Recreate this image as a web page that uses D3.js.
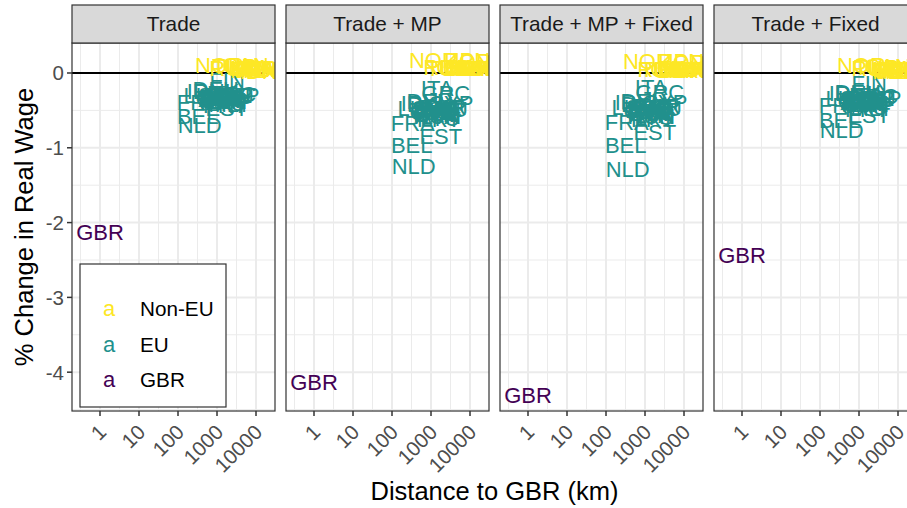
<!DOCTYPE html>
<html>
<head>
<meta charset="utf-8">
<script src="https://cdn.jsdelivr.net/npm/d3@7"></script>
<style>
  body { margin: 0; background: #ffffff; }
  svg { display: block; font-family: "Liberation Sans", Arial, Helvetica, sans-serif; }
</style>
</head>
<body>
<svg id="chart" width="907" height="508"></svg>
<script>
// Facets (one panel per scenario)
const scenarios = ["Trade", "Trade + MP", "Trade + MP + Fixed", "Trade + Fixed"];

// Countries, their group and distance from London (km)
const countries = ["AUS","AUT","BEL","BGR","BRA","CAN","CHN","CYP","CZE","DEU","DNK","ESP","EST","FIN","FRA","GBR","GRC","HRV","HUN","IDN","IND","IRL","ITA","JPN","KOR","LTU","LUX","LVA","MEX","MLT","NLD","NOR","POL","PRT","ROU","RUS","SVK","SVN","SWE","TUR","TWN","USA"];
const groups = ["Non-EU","EU","EU","EU","Non-EU","Non-EU","Non-EU","EU","EU","EU","EU","EU","EU","EU","EU","GBR","EU","EU","EU","Non-EU","Non-EU","EU","EU","Non-EU","Non-EU","EU","EU","EU","Non-EU","EU","EU","Non-EU","EU","EU","EU","Non-EU","EU","EU","EU","Non-EU","Non-EU","Non-EU"];
const distanceKm = [17000,1235,320,2020,8770,5350,8140,3220,1035,930,955,1260,1785,1820,340,1,2390,1360,1450,11700,6720,460,1435,9560,8860,1720,490,1680,8900,2100,360,1150,1450,1585,2090,2500,1300,1210,1430,2840,9780,5900];

// % change in real wage, one array per scenario (same country order)
const changeTrade =        [0.05,-0.35,-0.57,-0.30,0.04,0.10,0.05,-0.30,-0.33,-0.22,-0.24,-0.32,-0.47,-0.10,-0.39,-2.13,-0.28,-0.36,-0.38,0.03,0.06,-0.24,-0.27,0.05,0.06,-0.40,-0.30,-0.37,0.04,-0.42,-0.70,0.11,-0.34,-0.43,-0.31,0.07,-0.36,-0.34,-0.29,0.09,0.05,0.08];
const changeTradeMP =      [0.07,-0.50,-0.96,-0.45,0.06,0.08,0.07,-0.40,-0.52,-0.38,-0.42,-0.48,-0.85,-0.45,-0.67,-4.13,-0.27,-0.55,-0.58,0.06,0.07,-0.40,-0.20,0.17,0.16,-0.60,-0.47,-0.57,0.07,-0.50,-1.24,0.17,-0.53,-0.62,-0.48,0.08,-0.55,-0.50,-0.47,0.07,0.08,0.07];
const changeTradeMPFixed = [0.05,-0.49,-0.97,-0.44,0.04,0.05,0.05,-0.39,-0.51,-0.37,-0.41,-0.47,-0.79,-0.44,-0.66,-4.30,-0.26,-0.54,-0.57,0.04,0.05,-0.39,-0.19,0.16,0.15,-0.59,-0.46,-0.56,0.05,-0.49,-1.28,0.16,-0.52,-0.61,-0.47,0.05,-0.54,-0.49,-0.46,0.05,0.06,0.04];
const changeTradeFixed =   [0.04,-0.39,-0.63,-0.34,0.03,0.09,0.04,-0.34,-0.37,-0.25,-0.27,-0.36,-0.56,-0.14,-0.43,-2.43,-0.31,-0.40,-0.42,0.02,0.05,-0.27,-0.30,0.04,0.05,-0.45,-0.34,-0.41,0.03,-0.47,-0.76,0.11,-0.38,-0.48,-0.35,0.06,-0.40,-0.38,-0.33,0.08,0.04,0.07];
const scenarioValues = [changeTrade, changeTradeMP, changeTradeMPFixed, changeTradeFixed];

// Axis ticks and legend
const xTicks = [1, 10, 100, 1000, 10000];
const xTickLabels = ["1", "10", "100", "1000", "10000"];
const yTicks = [0, -1, -2, -3, -4];
const yTickLabels = ["0", "-1", "-2", "-3", "-4"];
const groupOrder = ["Non-EU", "EU", "GBR"];
const groupColors = ["#FDE725", "#21908C", "#440154"];

// ---- layout ----
const svg = d3.select("#chart");
const panelW = 203, panelGap = 11, firstLeft = 72;
const stripTop = 5, panelTop = 43, panelBottom = 411;
const ink = "#333333", gridCol = "#EBEBEB", tickText = "#4D4D4D";

const x = d3.scaleLog().domain([Math.pow(10, -0.718), Math.pow(10, 4.487)]).range([0, panelW]);
const y = d3.scaleLinear().domain([0.401, -4.519]).range([panelTop, panelBottom]);
const color = d3.scaleOrdinal().domain(groupOrder).range(groupColors);

const rows = countries.map((c, i) => ({ code: c, group: groups[i], dist: distanceKm[i] }));

const xMinor = d3.range(-1, 5).map(k => Math.pow(10, k + 0.5)).filter(v => x(v) > 0 && x(v) < panelW);
const yMinor = [-0.5, -1.5, -2.5, -3.5, -4.5];

const defs = svg.append("defs");

scenarios.forEach((name, p) => {
  const left = firstLeft + p * (panelW + panelGap);
  const g = svg.append("g").attr("transform", `translate(${left},0)`);

  defs.append("clipPath").attr("id", `clip${p}`)
    .append("rect").attr("x", 0).attr("y", panelTop).attr("width", panelW).attr("height", panelBottom - panelTop);

  // panel background + grid
  g.append("rect").attr("x", 0).attr("y", panelTop).attr("width", panelW).attr("height", panelBottom - panelTop).attr("fill", "#ffffff");
  const grid = g.append("g");
  grid.selectAll(".xmin").data(xMinor).join("line")
    .attr("x1", d => x(d)).attr("x2", d => x(d)).attr("y1", panelTop).attr("y2", panelBottom)
    .attr("stroke", gridCol).attr("stroke-width", 1);
  grid.selectAll(".ymin").data(yMinor).join("line")
    .attr("x1", 0).attr("x2", panelW).attr("y1", d => y(d)).attr("y2", d => y(d))
    .attr("stroke", gridCol).attr("stroke-width", 1);
  grid.selectAll(".xmaj").data(xTicks).join("line")
    .attr("x1", d => x(d)).attr("x2", d => x(d)).attr("y1", panelTop).attr("y2", panelBottom)
    .attr("stroke", gridCol).attr("stroke-width", 2);
  grid.selectAll(".ymaj").data(yTicks).join("line")
    .attr("x1", 0).attr("x2", panelW).attr("y1", d => y(d)).attr("y2", d => y(d))
    .attr("stroke", gridCol).attr("stroke-width", 2);

  // zero reference line
  g.append("line").attr("x1", 0).attr("x2", panelW).attr("y1", y(0)).attr("y2", y(0))
    .attr("stroke", "#000000").attr("stroke-width", 1.8);

  // country labels
  const vals = scenarioValues[p];
  g.append("g").attr("clip-path", `url(#clip${p})`)
    .selectAll("text").data(rows).join("text")
    .attr("x", d => x(d.dist))
    .attr("y", (d, i) => y(vals[i]))
    .attr("dy", "0.36em")
    .attr("text-anchor", "middle")
    .attr("font-size", 22)
    .attr("fill", d => color(d.group))
    .text(d => d.code);

  // panel border
  g.append("rect").attr("x", 0).attr("y", panelTop).attr("width", panelW).attr("height", panelBottom - panelTop)
    .attr("fill", "none").attr("stroke", ink).attr("stroke-width", 1.2);

  // strip
  g.append("rect").attr("x", 0).attr("y", stripTop).attr("width", panelW).attr("height", panelTop - stripTop)
    .attr("fill", "#D9D9D9").attr("stroke", ink).attr("stroke-width", 1.2);
  g.append("text").attr("x", panelW / 2).attr("y", (stripTop + panelTop) / 2).attr("dy", "0.36em")
    .attr("text-anchor", "middle").attr("font-size", 20.8).attr("fill", "#1A1A1A").text(name);

  // x axis
  const xa = g.append("g");
  xa.selectAll("line").data(xTicks).join("line")
    .attr("x1", d => x(d)).attr("x2", d => x(d)).attr("y1", panelBottom).attr("y2", panelBottom + 5)
    .attr("stroke", ink).attr("stroke-width", 1.5);
  xa.selectAll("text").data(xTicks).join("text")
    .attr("transform", d => `translate(${x(d) - 3},${panelBottom + 12}) rotate(-45)`)
    .attr("dy", "0.72em")
    .attr("text-anchor", "end").attr("font-size", 20.5).attr("fill", tickText)
    .text((d, i) => xTickLabels[i]);

  // y axis (first panel only)
  if (p === 0) {
    const ya = g.append("g");
    ya.selectAll("line").data(yTicks).join("line")
      .attr("x1", -5).attr("x2", 0).attr("y1", d => y(d)).attr("y2", d => y(d))
      .attr("stroke", ink).attr("stroke-width", 1.5);
    ya.selectAll("text").data(yTicks).join("text")
      .attr("x", -8).attr("y", d => y(d)).attr("dy", "0.36em")
      .attr("text-anchor", "end").attr("font-size", 20.5).attr("fill", tickText)
      .text((d, i) => yTickLabels[i]);
  }
});

// axis titles
const plotRight = firstLeft + 4 * panelW + 3 * panelGap;
svg.append("text").attr("x", (firstLeft + plotRight) / 2).attr("y", 500)
  .attr("text-anchor", "middle").attr("font-size", 25.5).attr("fill", "#000")
  .text("Distance to GBR (km)");
svg.append("text").attr("transform", `translate(33,${(panelTop + panelBottom) / 2}) rotate(-90)`)
  .attr("text-anchor", "middle").attr("font-size", 25.5).attr("fill", "#000")
  .text("% Change in Real Wage");

// legend inside first panel
const lg = svg.append("g");
lg.append("rect").attr("x", 80).attr("y", 264).attr("width", 146).attr("height", 143)
  .attr("fill", "#ffffff").attr("stroke", "#333333").attr("stroke-width", 1.2);
const legendRows = [309, 345, 380];
groupOrder.forEach((gname, i) => {
  lg.append("text").attr("x", 109).attr("y", legendRows[i]).attr("dy", "0.3em")
    .attr("text-anchor", "middle").attr("font-size", 22).attr("fill", color(gname)).text("a");
  lg.append("text").attr("x", 140).attr("y", legendRows[i]).attr("dy", "0.36em")
    .attr("font-size", 20.7).attr("fill", "#000").text(gname);
});
</script>
</body>
</html>
